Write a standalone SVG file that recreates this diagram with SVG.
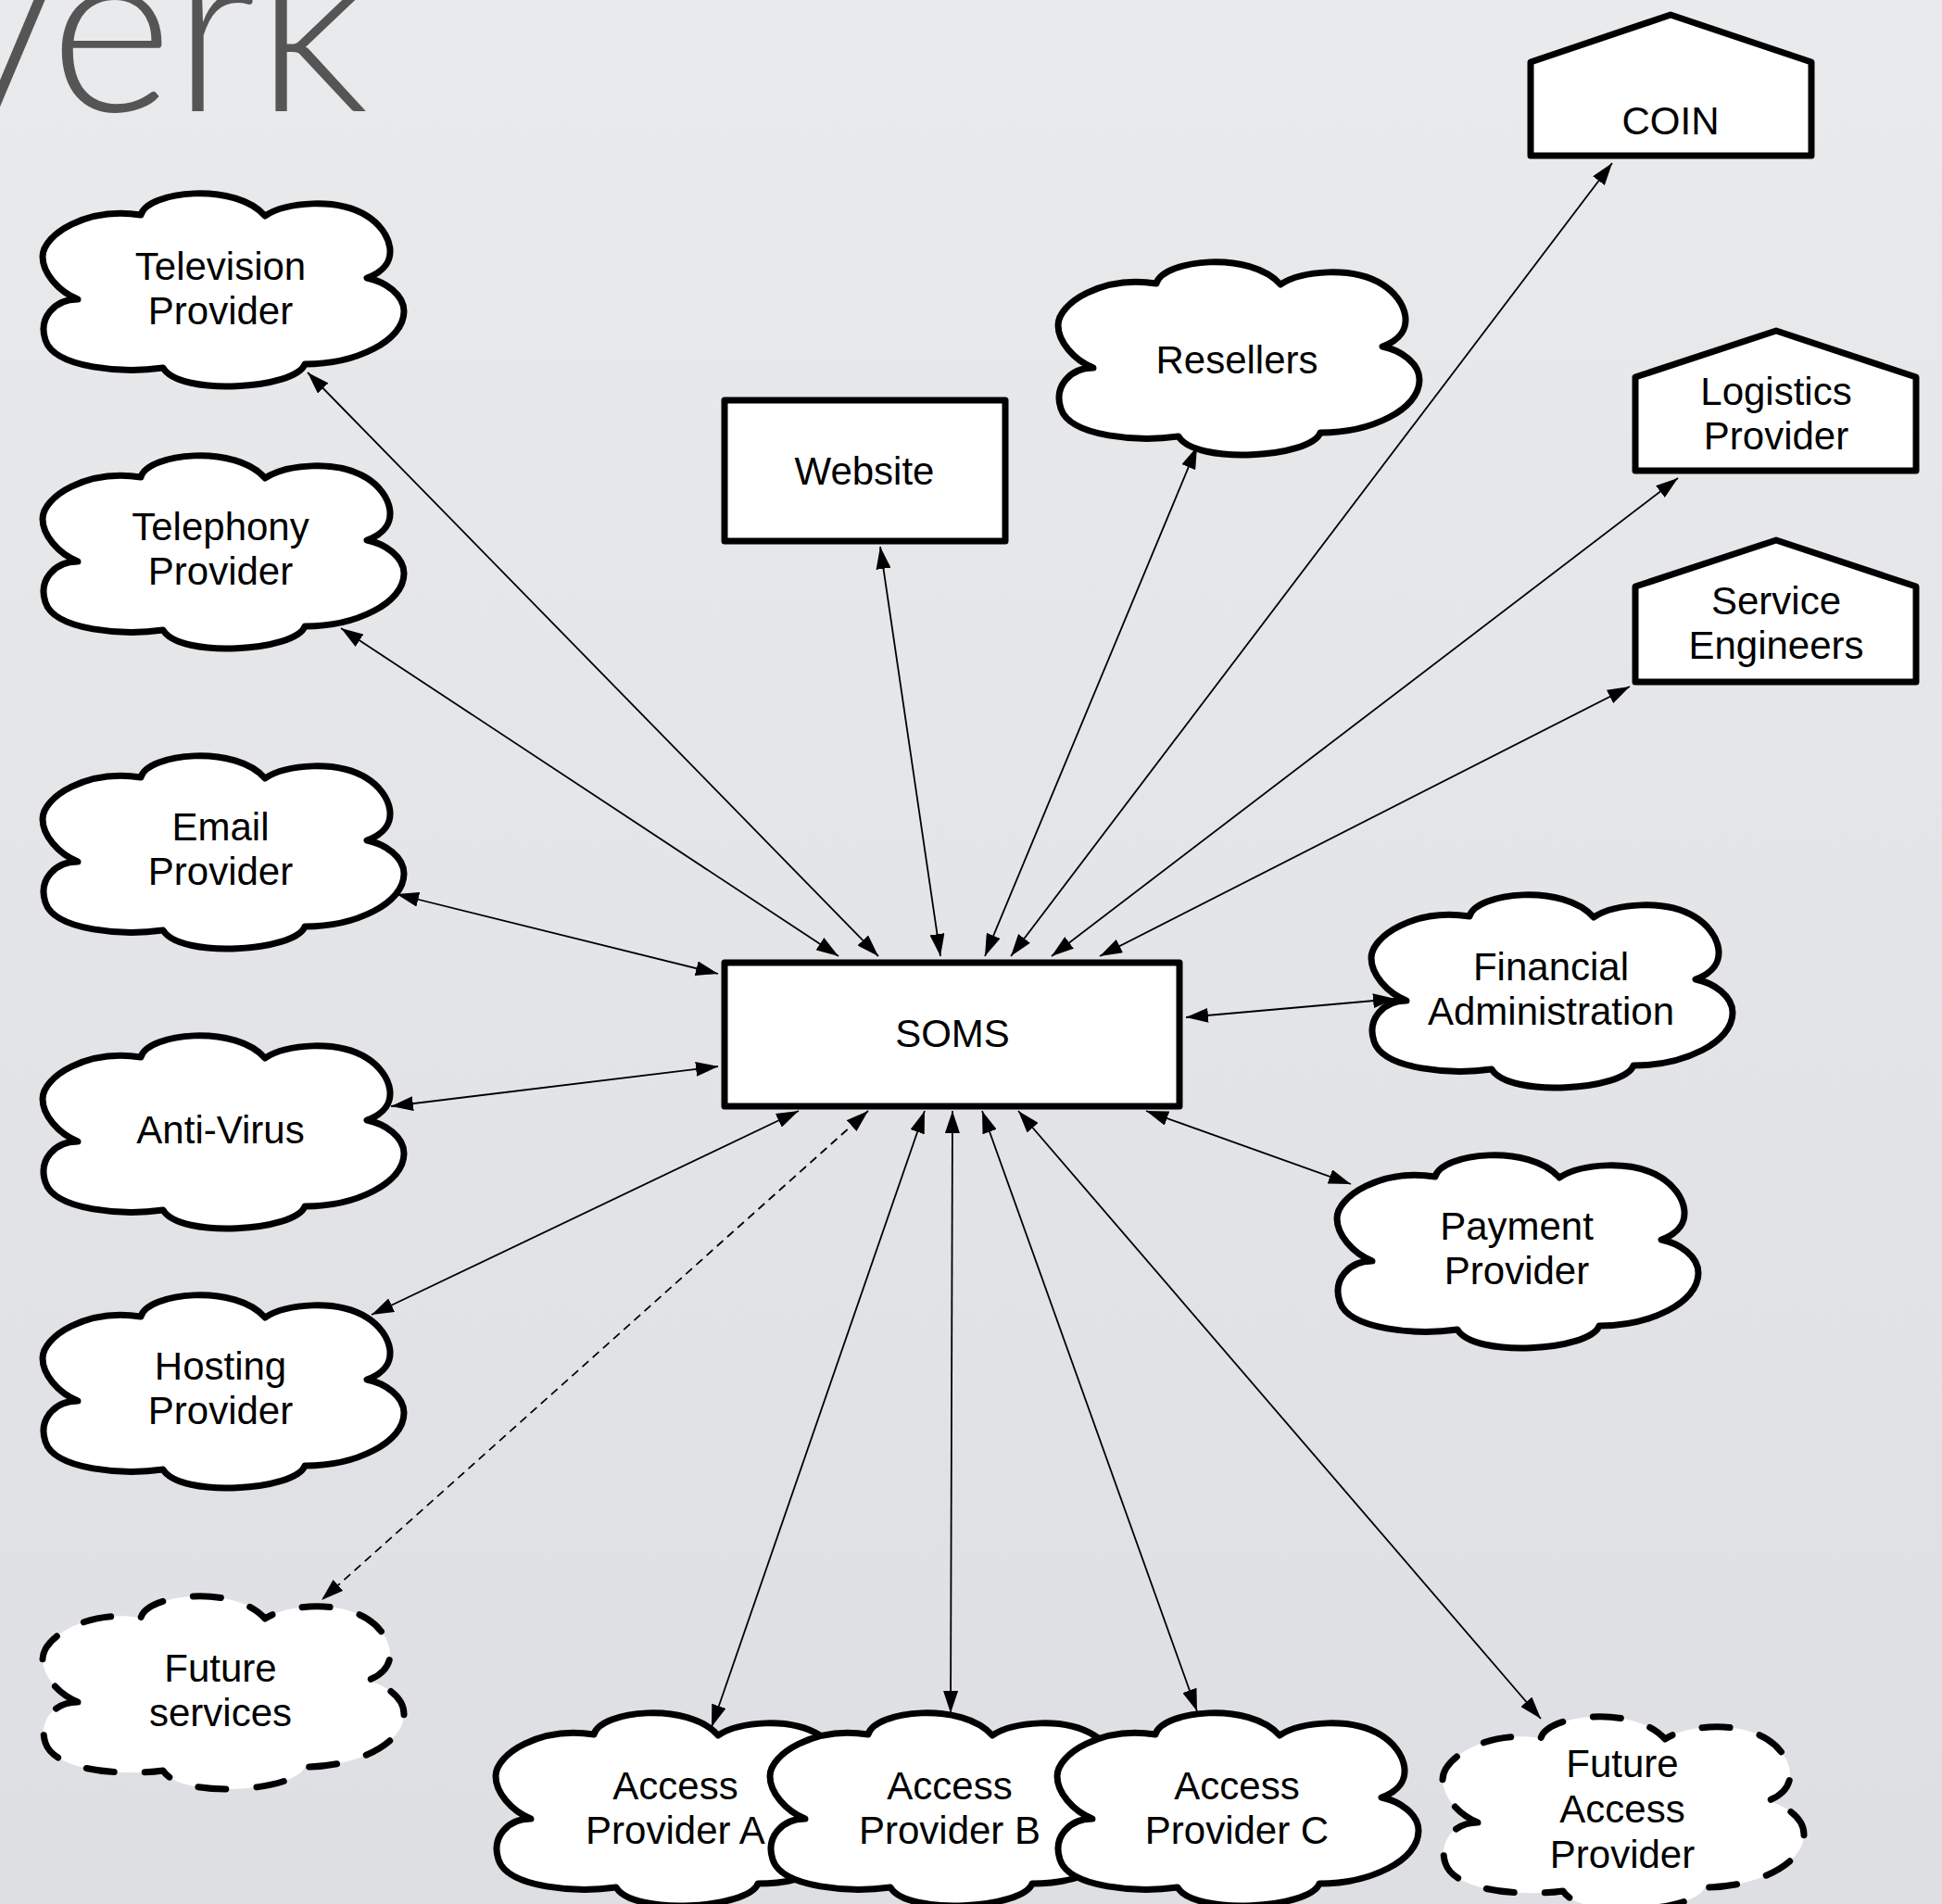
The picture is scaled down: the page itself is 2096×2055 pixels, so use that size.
<svg xmlns="http://www.w3.org/2000/svg" xmlns:xlink="http://www.w3.org/1999/xlink" width="2096" height="2055" viewBox="0 0 2096 2055">
<style>
.shape{fill:#fff;stroke:#000;stroke-width:7;stroke-linejoin:round}
.dashed{stroke-dasharray:30 33;stroke-linecap:round}
.lbl{font-family:"Liberation Sans",Arial,Helvetica,sans-serif;font-size:42px;fill:#000;text-anchor:middle}
.conn{stroke:#000;stroke-width:1.8;fill:none;marker-start:url(#ah);marker-end:url(#ah)}
.dash{stroke-dasharray:9 6}
</style>
<defs>
<linearGradient id="bg" x1="0" y1="0" x2="0" y2="1">
<stop offset="0" stop-color="#e9eaec"/>
<stop offset="1" stop-color="#dddfe2"/>
</linearGradient>
<marker id="ah" viewBox="0 0 24 16" refX="24" refY="8" markerWidth="24" markerHeight="16" markerUnits="userSpaceOnUse" orient="auto-start-reverse">
<path d="M0,0 L24,8 L0,16 Z" fill="#000"/>
</marker>
<path id="cloud" d="M40,115 C18,106 2,86 2,69 C2,45 50,15 108,24 C115,-2 210,-12 242,25 C265,10 320,5 352,25 C378,41 392,78 352,92 C372,96 392,110 392,128 C392,160 340,185 285,185 C275,212 150,220 132,189 C90,195 15,190 5,159 C-3,135 15,115 40,115 Z"/>
</defs>
<rect width="2096" height="2055" fill="url(#bg)"/>
<text x="398" y="120" font-family="Lato,'Open Sans',sans-serif" font-weight="300" font-size="255" fill="#555" text-anchor="end">verk</text>
<text x="396" y="15" font-family="'Liberation Sans',Arial,sans-serif" font-size="64" fill="#555">™</text>

<g id="connectors">
<line class="conn" x1="948" y1="1032" x2="332" y2="402"/>
<line class="conn" x1="905" y1="1032" x2="368" y2="678"/>
<line class="conn" x1="775" y1="1051" x2="428" y2="965"/>
<line class="conn" x1="775" y1="1151" x2="422" y2="1194"/>
<line class="conn" x1="862" y1="1199" x2="401" y2="1419"/>
<line class="conn dash" x1="937" y1="1199" x2="347" y2="1727"/>
<line class="conn" x1="998" y1="1199" x2="768" y2="1864"/>
<line class="conn" x1="1028" y1="1199" x2="1026" y2="1849"/>
<line class="conn" x1="1060" y1="1199" x2="1292" y2="1847"/>
<line class="conn" x1="1099" y1="1199" x2="1663" y2="1855"/>
<line class="conn" x1="1237" y1="1199" x2="1458" y2="1278"/>
<line class="conn" x1="1280" y1="1098" x2="1506" y2="1078"/>
<line class="conn" x1="1187" y1="1032" x2="1759" y2="741"/>
<line class="conn" x1="1135" y1="1032" x2="1811" y2="516"/>
<line class="conn" x1="1091" y1="1032" x2="1740" y2="176"/>
<line class="conn" x1="1063" y1="1032" x2="1292" y2="482"/>
<line class="conn" x1="1015" y1="1032" x2="950" y2="590"/>
</g>

<g id="soms">
<rect class="shape" x="782" y="1039" width="491" height="155"/>
<text class="lbl" x="1028" y="1130">SOMS</text>
</g>
<g id="website">
<rect class="shape" x="782" y="432" width="303" height="152"/>
<text class="lbl" x="933" y="523">Website</text>
</g>
<g id="coin">
<polygon class="shape" points="1652,67 1803,16 1955,67 1955,168 1652,168"/>
<text class="lbl" x="1803" y="145">COIN</text>
</g>
<g id="logistics">
<polygon class="shape" points="1765,407 1917,357 2068,407 2068,508 1765,508"/>
<text class="lbl" x="1917" y="437">Logistics</text>
<text class="lbl" x="1917" y="485">Provider</text>
</g>
<g id="service-engineers">
<polygon class="shape" points="1765,633 1917,583 2068,633 2068,736 1765,736"/>
<text class="lbl" x="1917" y="663">Service</text>
<text class="lbl" x="1917" y="711">Engineers</text>
</g>

<g id="television">
<use xlink:href="#cloud" class="shape" x="44" y="208"/>
<text class="lbl" x="238" y="302">Television</text>
<text class="lbl" x="238" y="350">Provider</text>
</g>
<g id="telephony">
<use xlink:href="#cloud" class="shape" x="44" y="491"/>
<text class="lbl" x="238" y="583">Telephony</text>
<text class="lbl" x="238" y="631">Provider</text>
</g>
<g id="email">
<use xlink:href="#cloud" class="shape" x="44" y="815"/>
<text class="lbl" x="238" y="907">Email</text>
<text class="lbl" x="238" y="955">Provider</text>
</g>
<g id="anti-virus">
<use xlink:href="#cloud" class="shape" x="44" y="1117"/>
<text class="lbl" x="238" y="1234">Anti-Virus</text>
</g>
<g id="hosting">
<use xlink:href="#cloud" class="shape" x="44" y="1397"/>
<text class="lbl" x="238" y="1489">Hosting</text>
<text class="lbl" x="238" y="1537">Provider</text>
</g>
<g id="future-services">
<use xlink:href="#cloud" class="shape dashed" x="44" y="1722"/>
<text class="lbl" x="238" y="1815">Future</text>
<text class="lbl" x="238" y="1863">services</text>
</g>
<g id="resellers">
<use xlink:href="#cloud" class="shape" x="1140" y="282"/>
<text class="lbl" x="1335" y="403">Resellers</text>
</g>
<g id="financial">
<use xlink:href="#cloud" class="shape" x="1478" y="965"/>
<text class="lbl" x="1674" y="1058">Financial</text>
<text class="lbl" x="1674" y="1106">Administration</text>
</g>
<g id="payment">
<use xlink:href="#cloud" class="shape" x="1441" y="1246"/>
<text class="lbl" x="1637" y="1338">Payment</text>
<text class="lbl" x="1637" y="1386">Provider</text>
</g>
<g id="access-a">
<use xlink:href="#cloud" class="shape" x="533" y="1848"/>
<text class="lbl" x="729" y="1942">Access</text>
<text class="lbl" x="729" y="1990">Provider A</text>
</g>
<g id="access-b">
<use xlink:href="#cloud" class="shape" x="829" y="1848"/>
<text class="lbl" x="1025" y="1942">Access</text>
<text class="lbl" x="1025" y="1990">Provider B</text>
</g>
<g id="access-c">
<use xlink:href="#cloud" class="shape" x="1139" y="1848"/>
<text class="lbl" x="1335" y="1942">Access</text>
<text class="lbl" x="1335" y="1990">Provider C</text>
</g>
<g id="future-access">
<use xlink:href="#cloud" class="shape dashed" x="1555" y="1852"/>
<text class="lbl" x="1751" y="1918">Future</text>
<text class="lbl" x="1751" y="1967">Access</text>
<text class="lbl" x="1751" y="2016">Provider</text>
</g>
</svg>
